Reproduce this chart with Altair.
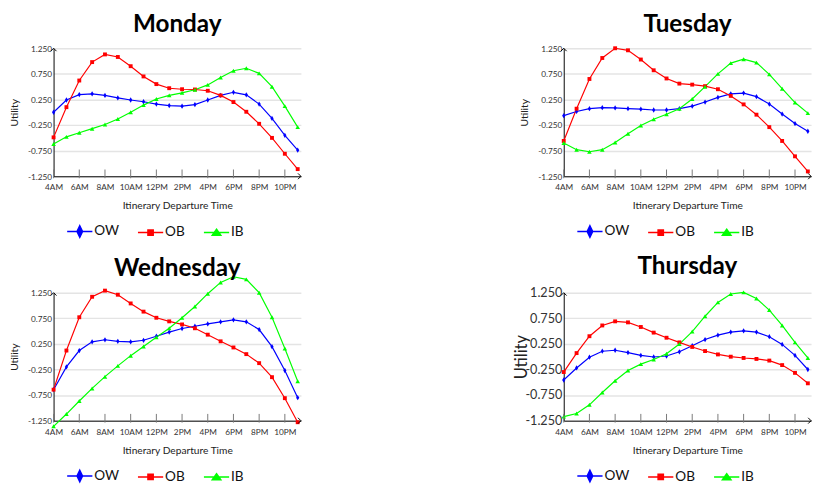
import altair as alt
import pandas as pd

hours = list(range(4, 24))
x_ticks = [4, 6, 8, 10, 12, 14, 16, 18, 20, 22]
y_ticks = [-1.25, -0.75, -0.25, 0.25, 0.75, 1.25]
series = ["OW", "OB", "IB"]
colors = ["#0000ff", "#ff0000", "#00ff00"]
days = ["Monday", "Tuesday", "Wednesday", "Thursday"]

mon_ow = [0.00, 0.24, 0.345, 0.36, 0.33, 0.28, 0.24, 0.205, 0.16, 0.13, 0.12, 0.15, 0.24, 0.33, 0.39, 0.34, 0.16, -0.12, -0.45, -0.74]
mon_ob = [-0.49, 0.10, 0.62, 0.98, 1.13, 1.08, 0.90, 0.70, 0.55, 0.47, 0.45, 0.445, 0.42, 0.33, 0.20, 0.01, -0.225, -0.50, -0.81, -1.11]
mon_ib = [-0.62, -0.48, -0.40, -0.32, -0.24, -0.13, 0.00, 0.14, 0.26, 0.33, 0.38, 0.44, 0.535, 0.68, 0.81, 0.86, 0.76, 0.50, 0.12, -0.29]

tue_ow = [-0.066, 0.016, 0.07, 0.09, 0.085, 0.07, 0.06, 0.045, 0.045, 0.07, 0.12, 0.20, 0.29, 0.36, 0.375, 0.305, 0.16, -0.035, -0.22, -0.37]
tue_ob = [-0.56, 0.07, 0.65, 1.06, 1.25, 1.21, 1.03, 0.82, 0.66, 0.56, 0.54, 0.51, 0.45, 0.32, 0.154, -0.047, -0.29, -0.56, -0.86, -1.155]
tue_ib = [-0.60, -0.73, -0.77, -0.73, -0.59, -0.42, -0.26, -0.135, -0.04, 0.07, 0.26, 0.50, 0.75, 0.96, 1.036, 0.97, 0.74, 0.46, 0.19, -0.016]

wed_ow = [-0.644, -0.20, 0.12, 0.29, 0.33, 0.30, 0.29, 0.32, 0.40, 0.48, 0.55, 0.594, 0.64, 0.68, 0.72, 0.68, 0.53, 0.196, -0.27, -0.80]
wed_ob = [-0.644, 0.12, 0.77, 1.17, 1.29, 1.21, 1.04, 0.88, 0.76, 0.69, 0.63, 0.555, 0.43, 0.30, 0.18, 0.05, -0.126, -0.40, -0.81, -1.28]
wed_ib = [-1.36, -1.12, -0.865, -0.62, -0.39, -0.18, 0.02, 0.20, 0.38, 0.555, 0.76, 0.98, 1.23, 1.45, 1.56, 1.51, 1.25, 0.77, 0.16, -0.48]

thu_ow = [-0.455, -0.22, -0.01, 0.107, 0.126, 0.08, 0.025, -0.006, 0.013, 0.095, 0.215, 0.335, 0.42, 0.48, 0.505, 0.48, 0.39, 0.24, 0.025, -0.25]
thu_ob = [-0.30, 0.07, 0.40, 0.61, 0.69, 0.67, 0.58, 0.47, 0.37, 0.28, 0.19, 0.11, 0.044, 0.0, -0.025, -0.044, -0.076, -0.164, -0.316, -0.52]
thu_ib = [-1.17, -1.11, -0.94, -0.70, -0.47, -0.27, -0.145, -0.055, 0.057, 0.246, 0.49, 0.79, 1.06, 1.225, 1.256, 1.136, 0.91, 0.61, 0.28, -0.025]

day_data = {
    "Monday": [mon_ow, mon_ob, mon_ib],
    "Tuesday": [tue_ow, tue_ob, tue_ib],
    "Wednesday": [wed_ow, wed_ob, wed_ib],
    "Thursday": [thu_ow, thu_ob, thu_ib],
}

FONT = "Lato"
W, H = 255, 132
point_shapes = ["M0,-1L0.6,0L0,1L-0.6,0Z", "square", "triangle-up"]
point_sizes = [30, 16, 22]
legend_paths = [
    "M-1,0L1,0M0,-0.46L0.22,0L0,0.46L-0.22,0Z",
    "M-1,0L1,0M-0.21,-0.21L0.21,-0.21L0.21,0.21L-0.21,0.21Z",
    "M-1,0L1,0M0,-0.26L0.34,0.22L-0.34,0.22Z",
]

x_label_expr = ("datum.value < 12 ? datum.value + 'AM' : (datum.value == 12 ? '12PM' : "
                "(datum.value - 12) + 'PM')")
y_label_expr = "(datum.value < 0 ? '-' : '') + format(abs(datum.value), '.3f')"


def panel(day, big=False, title_offset=8):
    rows = []
    for s, vals in zip(series, day_data[day]):
        for h, v in zip(hours, vals):
            rows.append({"hour": h, "value": v, "series": s})
    df = pd.DataFrame(rows)

    cscale = alt.Scale(domain=series, range=colors)
    xenc = alt.X(
        "hour:Q",
        scale=alt.Scale(domain=[4, 23.25], nice=False, zero=False),
        axis=alt.Axis(
            values=x_ticks, tickCount=30, labelExpr=x_label_expr,
            title="Itinerary Departure Time",
            grid=False, ticks=False, domainColor="black", domainWidth=1,
            labelFontSize=8.5, labelPadding=7, labelColor="#333", labelFont=FONT,
            labelOverlap=False,
            titleFontSize=10.5, titleFontWeight="normal", titleFont=FONT,
            titleColor="#222", titlePadding=10, labelFlush=False,
        ),
    )
    yenc = alt.Y(
        "value:Q",
        scale=alt.Scale(domain=[-1.25, 1.25], nice=False, zero=False),
        axis=alt.Axis(
            values=y_ticks, tickCount=30, labelExpr=y_label_expr, title="Utility",
            grid=True, gridColor="#e4e4e4", gridWidth=1.5, ticks=False,
            domainColor="black", domainWidth=1, labelOverlap=False,
            labelFontSize=13 if big else 8.5, labelPadding=2, labelColor="#333", labelFont=FONT,
            titleFontSize=17 if big else 10.5, titleFontWeight="normal", titleFont=FONT,
            titleColor="#222", titleX=-34 if big else -35, titleY=H / 2,
        ),
    )

    one = pd.DataFrame({"a": [0]})
    leg_df = pd.DataFrame({"series": series})
    leg = alt.Legend(
        title=None, orient="none", legendX=13, legendY=175, direction="horizontal",
        symbolSize=676, symbolStrokeWidth=1.5, labelFontSize=14, labelFont=FONT,
        labelColor="#111", columnPadding=16, labelOffset=1, symbolOpacity=1,
    )
    # legend-carrying layer first (its marks are placed outside and clipped away)
    layers = [
        alt.Chart(leg_df).mark_point(filled=True, opacity=1, clip=True, strokeWidth=1.5)
        .encode(
            x=alt.value(-200), y=alt.value(-200),
            color=alt.Color("series:N", scale=cscale, legend=leg),
            stroke=alt.Stroke("series:N", scale=alt.Scale(domain=series, range=colors), legend=leg),
            shape=alt.Shape("series:N", scale=alt.Scale(domain=series, range=legend_paths), legend=leg),
        )
    ]

    base = alt.Chart(df)
    layers.append(
        base.mark_line(strokeWidth=1.2).encode(
            x=xenc, y=yenc, color=alt.Color("series:N", scale=cscale, legend=None),
            detail="series:N",
        )
    )
    for s, shp, sz in zip(series, point_shapes, point_sizes):
        layers.append(
            base.transform_filter(alt.datum.series == s)
            .mark_point(shape=shp, size=sz, filled=True, opacity=1, strokeWidth=0)
            .encode(x="hour:Q", y="value:Q",
                    color=alt.Color("series:N", scale=cscale, legend=None))
        )
    tick_df = pd.DataFrame({"hour": x_ticks})
    layers.append(
        alt.Chart(tick_df).mark_rule(color="#777", strokeWidth=1).encode(
            x="hour:Q", y=alt.value(H - 7), y2=alt.value(H + 2)
        )
    )
    layers.append(
        alt.Chart(one).mark_point(shape="M-1,1L0,0L1,1", size=36, color="black",
                                  strokeWidth=1, filled=False, opacity=1)
        .encode(x=alt.value(0), y=alt.value(0))
    )
    layers.append(
        alt.Chart(one).mark_point(shape="M-1,-1L0,0L-1,1", size=36, color="black",
                                  strokeWidth=1, filled=False, opacity=1)
        .encode(x=alt.value(W), y=alt.value(H))
    )
    return alt.layer(*layers).properties(
        width=W, height=H,
        title=alt.TitleParams(text=day, fontSize=25, fontWeight="bold", font=FONT,
                              color="black", anchor="middle", offset=title_offset),
    )


panels = [
    panel("Monday"),
    panel("Tuesday"),
    panel("Wednesday", title_offset=-7),
    panel("Thursday", big=True),
]
chart = (
    alt.concat(*panels, columns=2, spacing={"row": 15, "column": 217})
    .resolve_scale(color="independent", stroke="independent", shape="independent")
    .resolve_legend(color="independent", stroke="independent", shape="independent")
    .properties(padding={"left": 2, "top": -3, "right": 0, "bottom": 0})
    .configure_view(stroke=None)
    .configure_axis(labelOverlap=False)
)

chart.save("out.html", embed_options={"renderer": "svg", "actions": False})
